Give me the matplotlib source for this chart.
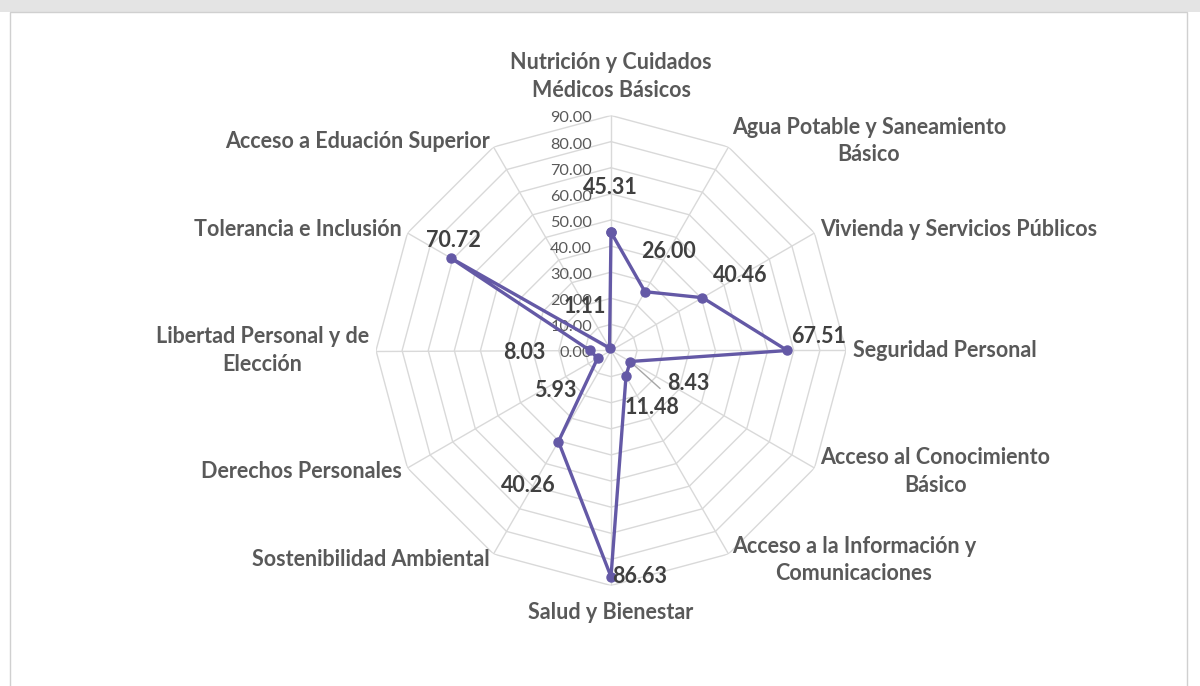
import numpy as np
import matplotlib
matplotlib.use("Agg")
import matplotlib.pyplot as plt
from matplotlib.patches import Rectangle

categories = [
    "Nutrición y Cuidados\nMédicos Básicos",
    "Agua Potable y Saneamiento\nBásico",
    "Vivienda y Servicios Públicos",
    "Seguridad Personal",
    "Acceso al Conocimiento\nBásico",
    "Acceso a la Información y\nComunicaciones",
    "Salud y Bienestar",
    "Sostenibilidad Ambiental",
    "Derechos Personales",
    "Libertad Personal y de\nElección",
    "Tolerancia e Inclusión",
    "Acceso a Eduación Superior",
]
values = [45.31, 26.00, 40.46, 67.51, 8.43, 11.48, 86.63, 40.26, 5.93, 8.03, 70.72, 1.11]
ticks = [0, 10, 20, 30, 40, 50, 60, 70, 80, 90]

# label offsets in pixels (dx, dy up)
label_offsets = [(-1, 45), (24, 40), (38, 22), (31, 14), (58, -22), (26, -31),
                 (29, 0), (-30, -44), (-42, -32), (-66, -2), (2, 18), (-25, 41)]

plt.rcParams['font.family'] = ['Lato', 'DejaVu Sans']

W, H = 1200, 686
fig = plt.figure(figsize=(W / 100, H / 100), dpi=100)
fig.patch.set_facecolor('white')

# background: top band and chart border
fig.patches.append(Rectangle((0, 1 - 12 / H), 1, 12 / H, transform=fig.transFigure,
                             facecolor='#e4e4e4', edgecolor='none', zorder=-10))
fig.patches.append(Rectangle((10 / W, -0.05), (1187 - 10) / W, 1.05 - 12 / H,
                             transform=fig.transFigure, facecolor='white',
                             edgecolor='#d0d0d0', linewidth=1.0, zorder=-9))

cx, cy, R = 611, 350.5, 235
ax = fig.add_axes([(cx - R) / W, (H - cy - R) / H, 2 * R / W, 2 * R / H], projection='polar')
ax.set_zorder(5)
ax.set_theta_zero_location('N')
ax.set_theta_direction(-1)
ax.set_ylim(0, 90)
ax.grid(False)
ax.set_xticks([])
ax.set_yticks([])
ax.spines['polar'].set_visible(False)
ax.patch.set_alpha(0)

n = len(categories)
theta = np.arange(n) * 2 * np.pi / n
theta_c = np.append(theta, theta[0])

grid_col = '#d9d9d9'
for t in ticks[1:]:
    ax.plot(theta_c, [t] * (n + 1), color=grid_col, lw=1.0, zorder=1)
for th in theta:
    ax.plot([th, th], [0, ticks[-1]], color=grid_col, lw=1.0, zorder=1)

# tick labels
for t in ticks:
    ax.annotate(f"{t:.2f}", xy=(0, t), xytext=(-19, -3), textcoords='offset pixels',
                ha='right', va='center', fontsize=11.7, color='#595959', zorder=2)

# data
vals_c = np.append(values, values[0])
line_col = '#6459A6'
ax.plot(theta_c, vals_c, color=line_col, lw=2.4, marker='o', markersize=6.5, zorder=4)

for i, (v, (dx, dy)) in enumerate(zip(values, label_offsets)):
    ax.annotate(f"{v:.2f}", xy=(theta[i], v), xytext=(dx, dy), textcoords='offset pixels',
                ha='center', va='center', fontsize=15.5, fontweight='bold', color='#404040',
                zorder=5)
# leader line for small label
i = 4
ax.annotate("", xy=(theta[i], values[i]), xytext=(30, -27), textcoords='offset pixels',
            arrowprops=dict(arrowstyle='-', color='#a6a6a6', lw=1.0, shrinkA=0, shrinkB=3),
            zorder=3)

# category labels
rl = 92.6
for i, cat in enumerate(categories):
    ang = theta[i]
    s = np.sin(ang)
    c = np.cos(ang)
    if abs(s) < 1e-6:
        ha = 'center'
        va = 'bottom' if c > 0 else 'top'
        r = rl + (3.0 if c > 0 else 3.8)
    else:
        ha = 'left' if s > 0 else 'right'
        va = 'center'
        r = rl
    ax.text(ang, r, cat, ha=ha, va=va, multialignment='center', fontsize=15.5,
            fontweight='bold', color='#595959', linespacing=1.38, zorder=5)

fig.savefig('out.png', dpi=100)
